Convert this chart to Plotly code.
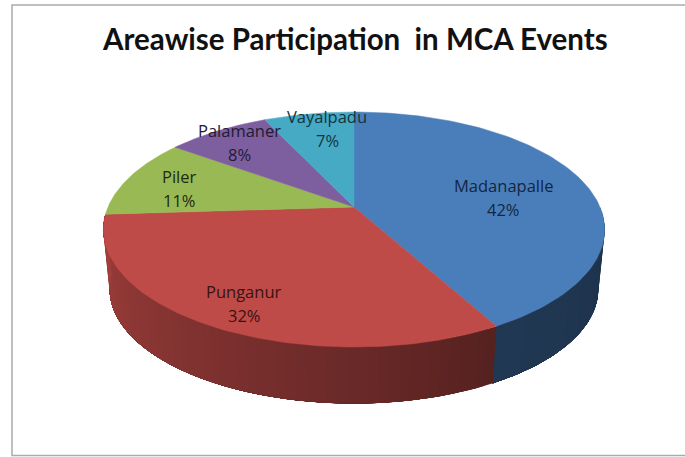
import numpy as np
import plotly.graph_objects as go

names = ["Madanapalle", "Punganur", "Piler", "Palamaner", "Vayalpadu"]
values = [42, 32, 11, 8, 7]
colors = ["#4A7EBB", "#BE4B48", "#98B954", "#7D5FA0", "#46AAC4"]
title = "Areawise Participation  in MCA Events"

W, H = 685, 457
X0, Y0, B, A, P = 354, 207, 246, 113.2, 0.1915
SCALE, Y0B = 0.975, 267


def project(theta_deg, bottom=False):
    t = np.radians(theta_deg)
    u, v = np.sin(t), -np.cos(t)
    w = 1 - P * v
    s, y0 = (SCALE, Y0B) if bottom else (1.0, Y0)
    return X0 + s * B * u / w, y0 + s * A * v / w


def shade(color, f):
    r, g, b = (int(color[i:i + 2], 16) for i in (1, 3, 5))
    return f"rgb({int(r * f)},{int(g * f)},{int(b * f)})"


fig = go.Figure()
edges = np.concatenate([[0], np.cumsum(values)]) / sum(values) * 360

# side wall: each band runs to the end of its slice and the next band paints over it, so no seams
for i, col in enumerate(colors):
    lo, hi = max(edges[i], 90), min(edges[i + 1], 266)
    if hi <= lo:
        continue
    steps = np.arange(lo, hi, 2.0)
    for a in steps:
        m = a + 1
        f = float(np.interp(m, [90, 151, 200, 266], [0.40, 0.45, 0.63, 0.85]))
        c = shade(col, f)
        th = np.linspace(a, hi, 60)
        xt, yt = project(th)
        xb, yb = project(th[::-1], True)
        fig.add_trace(go.Scatter(x=np.r_[xt, xb, xt[0]], y=np.r_[yt, yb, yt[0]],
                                 mode="lines", fill="toself", fillcolor=c,
                                 line=dict(width=0), hoverinfo="skip"))

# top face
for i, col in enumerate(colors):
    th = np.linspace(edges[i], edges[i + 1], 120)
    x, y = project(th)
    fig.add_trace(go.Scatter(x=np.r_[X0, x, X0], y=np.r_[Y0, y, Y0],
                             mode="lines", fill="toself", fillcolor=col,
                             line=dict(color=col, width=0.5), hoverinfo="skip"))

label_pos = [(503, 197), (244, 303), (179, 188), (239, 142), (327, 128.5)]
text_cols = ["#12263f", "#3b1212", "#1f2a10", "#231a33", "#123540"]
annotations = []
for n, v, (lx, ly), tc in zip(names, values, label_pos, text_cols):
    for txt, yy in ((n, ly - 12), (f"{v}%", ly + 12)):
        annotations.append(dict(x=lx, y=yy, xref="x", yref="y", text=txt, showarrow=False,
                                font=dict(family="Open Sans", size=16.5, color=tc)))
annotations.append(dict(x=355, y=38, xref="x", yref="y", text=title, showarrow=False,
                        font=dict(family="Lato", size=29.5, color="#111111", weight=700)))

fig.update_layout(
    width=W, height=H, margin=dict(l=0, r=0, t=0, b=0), showlegend=False,
    paper_bgcolor="white", plot_bgcolor="white",
    xaxis=dict(range=[0, W], visible=False, fixedrange=True),
    yaxis=dict(range=[H, 0], visible=False, fixedrange=True),
    annotations=annotations,
    shapes=[dict(type="rect", xref="x", yref="y", x0=12, y0=5, x1=W + 5, y1=455.5,
                 line=dict(color="#ABABAB", width=1.5), layer="below")],
)
fig.write_html("out.html", config=dict(displayModeBar=False),
               post_script="document.body.style.margin='0';document.documentElement.style.overflow='hidden';")
